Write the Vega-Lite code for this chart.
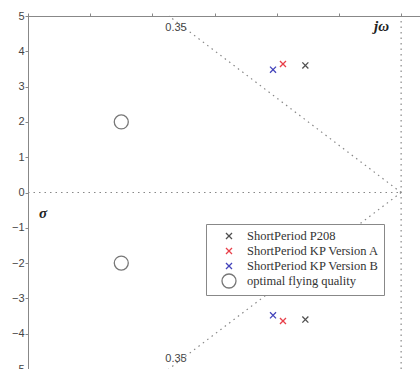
{
  "$schema": "https://vega.github.io/schema/vega-lite/v6.json",
  "width": 398,
  "height": 353,
  "autosize": {"type": "none"},
  "padding": {"left": 28, "top": 16, "right": 0, "bottom": 0},
  "background": "white",
  "config": {
    "view": {"stroke": "#888888", "strokeWidth": 1},
    "axis": {
      "grid": false,
      "domainColor": "#888888",
      "tickColor": "#888888",
      "labelColor": "#444444",
      "labelFont": "Liberation Sans",
      "labelFontSize": 11,
      "tickSize": 3,
      "labelPadding": 1,
      "labelOverlap": false,
      "labelFlush": false,
      "labelBound": false
    },
    "legend": {
      "orient": "none",
      "legendX": 178,
      "legendY": 208,
      "padding": 4,
      "strokeColor": "#888888",
      "fillColor": "white",
      "labelFont": "Liberation Serif",
      "labelFontSize": 12.5,
      "labelColor": "#333333",
      "labelOffset": 10,
      "symbolOffset": 11,
      "symbolSize": 196,
      "symbolStrokeWidth": 1.3,
      "rowPadding": -2,
      "cornerRadius": 0
    }
  },
  "resolve": {"axis": {"x": "independent"}},
  "layer": [
    {
      "data": {"values": [
        {"x": -3, "y": 0, "x2": 0, "y2": 0},
        {"x": 0, "y": -5, "x2": 0, "y2": 5},
        {"x": 0, "y": 0, "x2": -1.868, "y2": 5},
        {"x": 0, "y": 0, "x2": -1.868, "y2": -5}
      ]},
      "mark": {"type": "rule", "color": "#888888", "strokeWidth": 1.2, "strokeDash": [1.5, 4]},
      "encoding": {
        "x": {"field": "x", "type": "quantitative", "title": null,
              "scale": {"domain": [-3, 0.2], "nice": false, "zero": false},
              "axis": {"orient": "top", "labels": false, "values": [-3, -2.5, -2, -1.5, -1, -0.5, 0]}},
        "x2": {"field": "x2"},
        "y": {"field": "y", "type": "quantitative", "title": null,
              "scale": {"domain": [-5, 5], "nice": false},
              "axis": {"values": [-5, -4, -3, -2, -1, 0, 1, 2, 3, 4, 5]}},
        "y2": {"field": "y2"}
      }
    },
    {
      "data": {"values": [
        {"x": -1.81, "y": 4.66, "label": "0.35"},
        {"x": -1.81, "y": -4.72, "label": "0.35"}
      ]},
      "mark": {"type": "text", "font": "Liberation Sans", "fontSize": 11, "color": "#444444", "align": "center", "baseline": "middle"},
      "encoding": {
        "x": {"field": "x", "type": "quantitative", "title": null, "axis": null},
        "y": {"field": "y", "type": "quantitative", "title": null,
              "axis": {"values": [-5, -4, -3, -2, -1, 0, 1, 2, 3, 4, 5]}},
        "text": {"field": "label"}
      }
    },
    {
      "data": {"values": [
        {"x": -2.88, "y": -0.58, "label": "σ"},
        {"x": -0.157, "y": 4.72, "label": "jω"}
      ]},
      "mark": {"type": "text", "font": "Liberation Serif", "fontSize": 15, "fontWeight": "bold", "fontStyle": "italic", "color": "#222222", "align": "center", "baseline": "middle"},
      "encoding": {
        "x": {"field": "x", "type": "quantitative", "title": null, "axis": null},
        "y": {"field": "y", "type": "quantitative", "title": null,
              "axis": {"values": [-5, -4, -3, -2, -1, 0, 1, 2, 3, 4, 5]}},
        "text": {"field": "label"}
      }
    },
    {
      "data": {"values": [
        {"series": "ShortPeriod P208", "x": -0.77, "y": 3.6},
        {"series": "ShortPeriod P208", "x": -0.77, "y": -3.6},
        {"series": "ShortPeriod KP Version A", "x": -0.95, "y": 3.64},
        {"series": "ShortPeriod KP Version A", "x": -0.95, "y": -3.64},
        {"series": "ShortPeriod KP Version B", "x": -1.03, "y": 3.48},
        {"series": "ShortPeriod KP Version B", "x": -1.03, "y": -3.48},
        {"series": "optimal flying quality", "x": -2.25, "y": 2},
        {"series": "optimal flying quality", "x": -2.25, "y": -2}
      ]},
      "mark": {"type": "point", "filled": false, "size": 196, "strokeWidth": 1.3, "opacity": 1},
      "encoding": {
        "x": {"field": "x", "type": "quantitative", "title": null,
              "axis": {"orient": "bottom", "values": [-3, -2.5, -2, -1.5, -1, -0.5, 0]}},
        "y": {"field": "y", "type": "quantitative", "title": null,
              "axis": {"values": [-5, -4, -3, -2, -1, 0, 1, 2, 3, 4, 5]}},
        "color": {"field": "series", "type": "nominal",
                  "scale": {"domain": ["ShortPeriod P208", "ShortPeriod KP Version A", "ShortPeriod KP Version B", "optimal flying quality"],
                            "range": ["#505050", "#e8404a", "#4444bb", "#777777"]},
                  "legend": {"title": null}},
        "shape": {"field": "series", "type": "nominal",
                  "scale": {"domain": ["ShortPeriod P208", "ShortPeriod KP Version A", "ShortPeriod KP Version B", "optimal flying quality"],
                            "range": ["M-0.43,-0.43L0.43,0.43M-0.43,0.43L0.43,-0.43", "M-0.43,-0.43L0.43,0.43M-0.43,0.43L0.43,-0.43", "M-0.43,-0.43L0.43,0.43M-0.43,0.43L0.43,-0.43", "circle"]},
                  "legend": {"title": null}}
      }
    }
  ]
}
